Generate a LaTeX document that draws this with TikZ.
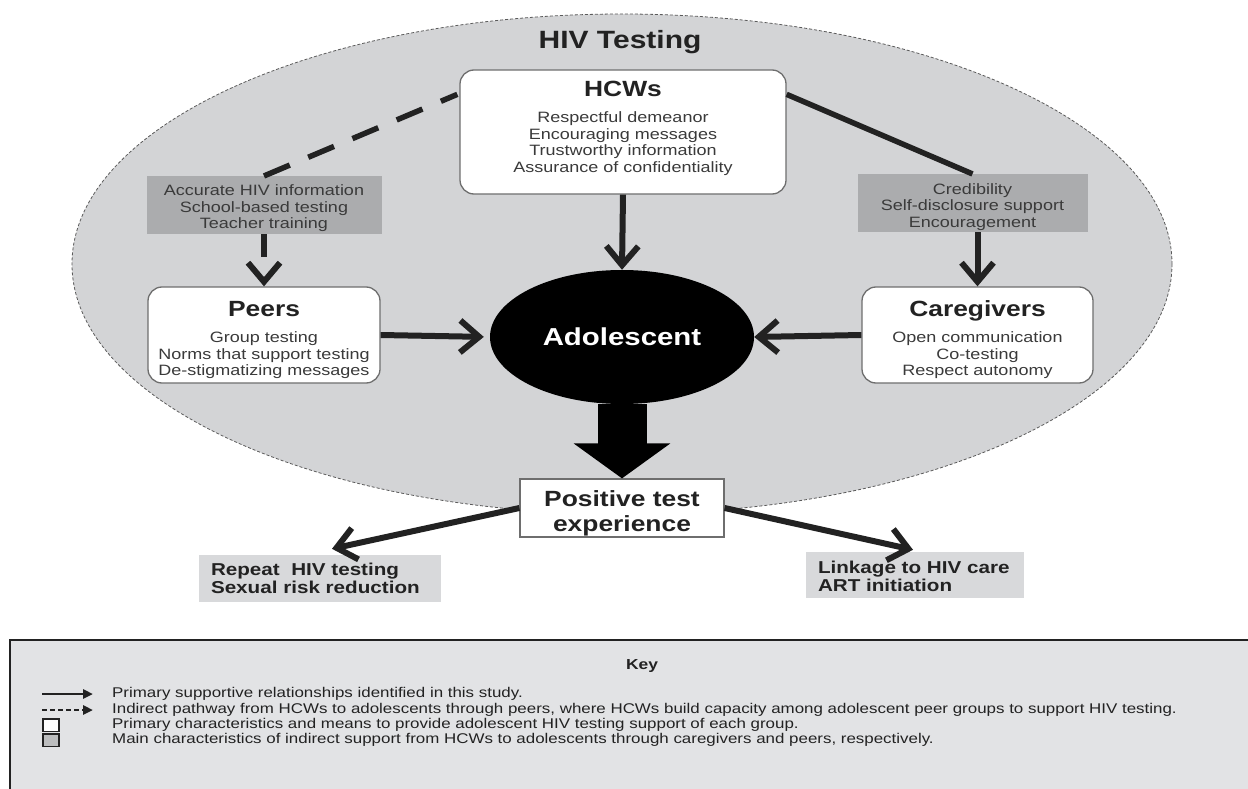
\documentclass[tikz,border=0pt]{standalone}
\usepackage{fontspec}
\setmainfont{Liberation Sans}[FakeStretch=1.2]
\usetikzlibrary{arrows.meta, positioning, calc, shapes.geometric}
\usepackage{xcolor}
\definecolor{zone}{HTML}{D3D4D6}
\definecolor{zoneline}{HTML}{5A5A5A}
\definecolor{means}{HTML}{ABACAE}
\definecolor{outcome}{HTML}{D8D9DB}
\definecolor{keybg}{HTML}{E2E3E5}
\definecolor{ink}{HTML}{222222}
\definecolor{body}{HTML}{3A3A3A}
\definecolor{edge}{HTML}{6E6E6E}

\newcommand{\fsz}[2]{\fontsize{#1}{#2}\selectfont}
\newcommand{\grouphead}[1]{{\color{ink}\bfseries\fsz{22}{24}#1}}

\begin{document}
\begin{tikzpicture}[
    x=1pt, y=-1pt,
    groupbox/.style={
        rectangle, rounded corners=14pt, draw=edge, line width=1.3pt,
        fill=white, minimum height=96pt, inner sep=0pt,
        align=center, text=body, font=\fsz{15}{16.5}
    },
    meansbox/.style={
        rectangle, fill=means, minimum height=58pt, inner sep=0pt,
        align=center, text=body, font=\fsz{15}{16.5}
    },
    outbox/.style={
        rectangle, fill=outcome, inner xsep=12pt, inner ysep=0pt,
        align=left, text=ink, font=\bfseries\fsz{17.2}{18.5}
    },
    teen/.style={
        ellipse, fill=black, minimum width=264pt, minimum height=134pt,
        inner sep=0pt, text=white, font=\bfseries\fsz{24.5}{26}
    },
    arr/.style={-{Straight Barb[length=19pt, width=32pt]}, line width=6pt, draw=ink},
    link/.style={line width=5.5pt, draw=ink},
    bigarr/.style={-{Triangle[length=35pt, width=95pt]}, line width=49pt, draw=black},
    keytxt/.style={anchor=west, inner sep=0pt, text=ink, font=\fsz{14.1}{15}},
    keyarr/.style={-{Triangle[length=10pt, width=9pt]}, line width=2.8pt, draw=ink},
]

\useasboundingbox[fill=white] (0,0) rectangle (1248,789);

% HIV testing zone
\draw[zoneline, line width=0.8pt, dash pattern=on 3pt off 2pt, fill=zone]
    (622,264) ellipse [x radius=550, y radius=250];
\node[font=\bfseries\fsz{25}{28}, text=ink] (zonetitle) at (620,42) {HIV Testing};

% Groups
\node[groupbox, minimum width=326pt, minimum height=124pt] (hcw) at (623,132) {%
    \grouphead{HCWs}\\[9.5pt]
    Respectful demeanor\\
    Encouraging messages\\
    Trustworthy information\\
    Assurance of confidentiality\rule[-10pt]{0pt}{10pt}};
\node[groupbox, minimum width=232pt] (peers) at (264,335) {%
    \grouphead{\rule{0pt}{26pt}Peers}\\[9.5pt]
    Group testing\\
    Norms that support testing\\
    De-stigmatizing messages};
\node[groupbox, minimum width=231pt] (care) at (977.5,335) {%
    \grouphead{\rule{0pt}{26pt}Caregivers}\\[9.5pt]
    Open communication\\
    Co-testing\\
    Respect autonomy};

% Indirect support
\node[meansbox, minimum width=235pt, above=52pt of peers] (peermeans) {%
    \rule{0pt}{17pt}Accurate HIV information\\
    School-based testing\\
    Teacher training};
\node[meansbox, minimum width=230pt, above=54pt of care, xshift=-5pt] (caremeans) {%
    \rule{0pt}{18pt}Credibility\\
    Self-disclosure support\\
    Encouragement};

% Adolescent and outcomes
\node[teen] (teen) at (622,337) {Adolescent};
\node[rectangle, draw=edge, line width=1.2pt, fill=white, minimum width=204pt,
    minimum height=58pt, inner sep=0pt, align=center, text=ink,
    font=\bfseries\fsz{22}{25}] (pos) at (622,508) {\rule{0pt}{26pt}Positive test\\experience};
\node[outbox, minimum width=242pt, minimum height=47pt, text width=218pt] (rep) at (320,578.5) {%
    Repeat~ HIV testing\\
    Sexual risk reduction};
\node[outbox, minimum width=218pt, minimum height=46pt, text width=194pt] (linkcare) at (915,575) {%
    \rule{0pt}{15pt}Linkage to HIV care\\
    ART initiation};

% Connectors
\draw[link, dash pattern=on 28pt off 20pt] (peermeans.north) -- ($(hcw.north west)+(-2,25)$);
\draw[link] ($(hcw.north east)+(0,25)$) -- (caremeans.north);
\draw[arr, dash pattern=on 23pt off 40pt] (peermeans.south -| peers.north) -- (peers.north);
\draw[arr] (caremeans.south -| care.north) -- (care.north);
\draw[arr] (hcw.south) -- (teen.north);
\draw[arr, shorten >=6pt] (peers.east) -- (teen.west);
\draw[arr] (care.west) -- (teen.east);
\draw[bigarr] (teen.south) -- (pos.north);
\draw[arr] (pos.west) -- ($(rep.north)+(12,-6)$);
\draw[arr] (pos.east) -- ($(linkcare.north)+(-2,-2)$);

% Key
\draw[draw=ink, line width=1.6pt, fill=keybg] (10,640) rectangle (1262,800);
\node[font=\bfseries\fsz{14.5}{15}, text=ink] (keytitle) at (642,666) {Key};
\node[keytxt] (k1) at (112,694) {Primary supportive relationships identified in this study.};
\node[keytxt] (k2) at (112,710) {Indirect pathway from HCWs to adolescents through peers, where HCWs build capacity among adolescent peer groups to support HIV testing.};
\node[keytxt] (k3) at (112,725) {Primary characteristics and means to provide adolescent HIV testing support of each group.};
\node[keytxt] (k4) at (112,740) {Main characteristics of indirect support from HCWs to adolescents through caregivers and peers, respectively.};
\coordinate (s1) at (42,694);
\coordinate (s2) at (42,710);
\draw[keyarr] (s1) -- ++(51,0);
\draw[keyarr, dash pattern=on 5pt off 3pt] (s2) -- ++(51,0);
\draw[draw=ink, line width=1.6pt, fill=white] (43,719) rectangle ++(16,12.5);
\draw[draw=ink, line width=1.6pt, fill=means!80] (43,734) rectangle ++(16,12.5);

\end{tikzpicture}
\end{document}
